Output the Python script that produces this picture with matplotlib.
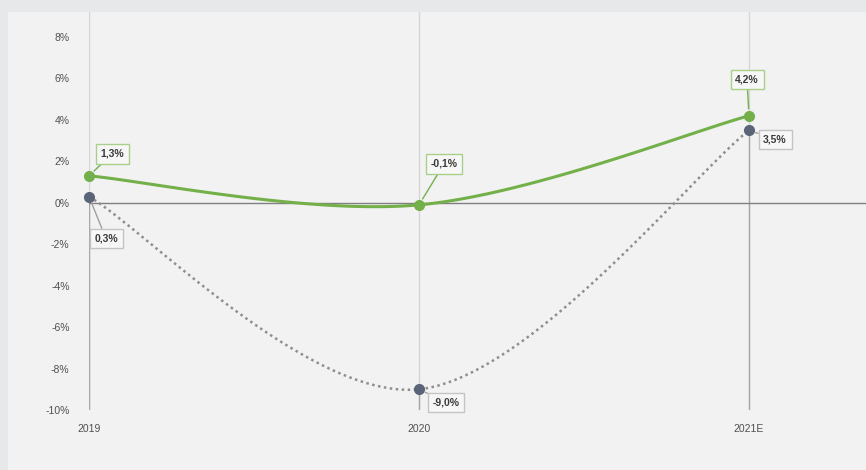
import numpy as np
import matplotlib.pyplot as plt
from matplotlib.patches import Rectangle

# dados
anos = ['2019', '2020', '2021E']
serie_verde = [1.3, -0.1, 4.2]
serie_cinza = [0.3, -9.0, 3.5]
rotulos_verde = ['1,3%', '-0,1%', '4,2%']
rotulos_cinza = ['0,3%', '-9,0%', '3,5%']
yticks = [-10, -8, -6, -4, -2, 0, 2, 4, 6, 8]

verde = '#74b04a'
cinza_ponto = '#5a6479'
cinza_linha = '#8e8e8e'
texto = '#3a3a3a'


def suavizar(xs, ys, n=60):
    # curva suavizada estilo Excel (Bezier com tangentes 1/6)
    pts = np.column_stack([xs, ys]).astype(float)
    out = []
    for i in range(len(pts) - 1):
        p0 = pts[i - 1] if i > 0 else pts[i]
        p1, p2 = pts[i], pts[i + 1]
        p3 = pts[i + 2] if i + 2 < len(pts) else pts[i + 1]
        c1 = p1 + (p2 - p0) / 6
        c2 = p2 - (p3 - p1) / 6
        t = np.linspace(0, 1, n)[:, None]
        seg = ((1 - t) ** 3) * p1 + 3 * ((1 - t) ** 2) * t * c1 + 3 * (1 - t) * t ** 2 * c2 + t ** 3 * p2
        out.append(seg)
    out = np.vstack(out)
    return out[:, 0], out[:, 1]


W, H = 866, 470
fig = plt.figure(figsize=(W / 100, H / 100), dpi=100)
fig.patch.set_facecolor('#e7e8ea')
fig.patches.append(Rectangle((8 / W, 0), 1, 1 - 12 / H, transform=fig.transFigure,
                             facecolor='#f2f2f2', edgecolor='none', zorder=-10))

ax = fig.add_axes([89 / W, 1 - 410 / H, 1 - 89 / W, (410 - 12) / H])
ax.set_facecolor('none')
x = np.arange(len(anos))
ax.set_xlim(0, (W - 89) / 330)
ax.set_ylim(-10, 8 + 25 / 20.7)

for xi, yc in zip(x, serie_cinza):
    ax.axvline(xi, color='#d6d6d6', lw=1, zorder=1)
    ax.plot([xi, xi], [-10, yc], color='#a8a8a8', lw=1, zorder=1.5)
ax.axhline(0, color='#808080', lw=1, zorder=2)

xs, ys = suavizar(x, serie_verde)
ax.plot(xs, ys, color=verde, lw=2.2, zorder=3, solid_capstyle='round')
ax.plot(x, serie_verde, 'o', color=verde, ms=7, zorder=4, clip_on=False)

xs, ys = suavizar(x, serie_cinza)
ax.plot(xs, ys, color=cinza_linha, lw=1.8, ls=(0, (1, 1.4)), zorder=3)
ax.plot(x, serie_cinza, 'o', color=cinza_ponto, ms=7, zorder=4, clip_on=False)

# rótulos (deslocamento em pixels)
off_verde = [(23, 22), (25, 41), (-2, 36)]
off_cinza = [(17, -42), (27, -13), (26, -9)]
for xi, yi, lab, off in zip(x, serie_verde, rotulos_verde, off_verde):
    ax.annotate(lab, (xi, yi), xytext=off, textcoords='offset pixels', ha='center', va='center',
                fontsize=7.5, fontweight='bold', color=texto, family='Liberation Sans',
                bbox=dict(boxstyle='square,pad=0.45', fc='#f7f7f7', ec='#a9cf8a', lw=1),
                arrowprops=dict(arrowstyle='-', color=verde, lw=1, shrinkA=0, shrinkB=5), zorder=5)
for xi, yi, lab, off in zip(x, serie_cinza, rotulos_cinza, off_cinza):
    ax.annotate(lab, (xi, yi), xytext=off, textcoords='offset pixels', ha='center', va='center',
                fontsize=7.5, fontweight='bold', color=texto, family='Liberation Sans',
                bbox=dict(boxstyle='square,pad=0.45', fc='#f7f7f7', ec='#c4c4c4', lw=1),
                arrowprops=dict(arrowstyle='-', color='#a0a0a0', lw=1, shrinkA=0, shrinkB=5), zorder=5)

ax.set_xticks(x)
ax.set_xticklabels(anos)
ax.set_yticks(yticks)
ax.set_yticklabels([f'{v}%' for v in yticks])
ax.tick_params(length=0, labelsize=7.5, labelcolor='#505050', pad=10)
ax.tick_params(axis='y', pad=14)
for lab in ax.get_xticklabels() + ax.get_yticklabels():
    lab.set_family('Liberation Sans')
for s in ax.spines.values():
    s.set_visible(False)

fig.savefig('out.png', dpi=100, facecolor=fig.get_facecolor())
